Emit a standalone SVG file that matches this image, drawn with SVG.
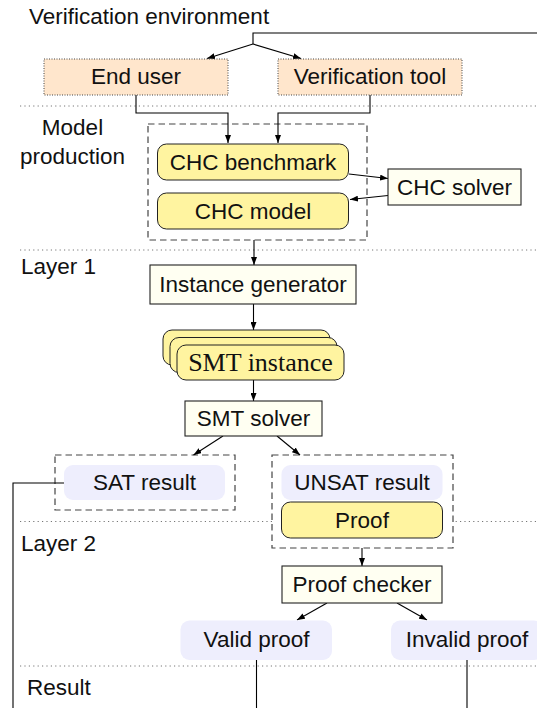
<svg xmlns="http://www.w3.org/2000/svg" width="537" height="708" viewBox="0 0 537 708">
  <defs>
    <marker id="arr" markerUnits="userSpaceOnUse" markerWidth="8" markerHeight="6" viewBox="0 0 8 6" refX="8" refY="3" orient="auto">
      <path d="M0,0 L8,3 L0,6 z" fill="#000"/>
    </marker>
    <style>
      text { font-family: "Liberation Sans", Arial, sans-serif; font-size: 22.5px; fill: #111; }
      .c { text-anchor: middle; }
      .serif { font-family: "Liberation Serif", "Times New Roman", serif; font-size: 26px; }
      .sep { stroke: #777; stroke-width: 1; stroke-dasharray: 1.2 3.2; fill: none; }
      .peach { fill: #ffe6cc; stroke: #444; stroke-width: 1; stroke-dasharray: 1 1.5; }
      .yel { fill: #fff4a0; stroke: #222; stroke-width: 1; }
      .lav { fill: #eeeefd; stroke: none; }
      .tool { fill: #fffff2; stroke: #222; stroke-width: 1.1; }
      .grp { fill: #fff; stroke: #444; stroke-width: 1.2; stroke-dasharray: 6.5 4; }
      .ln { stroke: #000; stroke-width: 1.1; fill: none; }
      .ar { stroke: #000; stroke-width: 1.1; fill: none; marker-end: url(#arr); }
    </style>
  </defs>

  <g id="separators">
    <line class="sep" x1="20" y1="106" x2="537" y2="106"/>
    <line class="sep" x1="20" y1="250" x2="537" y2="250"/>
    <line class="sep" x1="20" y1="521.5" x2="537" y2="521.5"/>
    <line class="sep" x1="20" y1="666" x2="537" y2="666"/>
  </g>

  <g id="layer-labels">
    <text x="29" y="23.5">Verification environment</text>
    <text class="c" x="72.5" y="135">Model</text>
    <text class="c" x="72.5" y="164">production</text>
    <text x="21" y="274">Layer 1</text>
    <text x="21" y="551">Layer 2</text>
    <text x="27" y="695">Result</text>
  </g>

  <g id="group-model">
    <rect class="grp" x="148" y="124" width="219" height="116"/>
  </g>
  <g id="group-sat">
    <rect class="grp" x="55" y="455" width="180" height="55"/>
  </g>
  <g id="group-unsat">
    <rect class="grp" x="272" y="455" width="181" height="93"/>
  </g>

  <g id="connectors">
    <polyline class="ln" points="540,33 253,33 253,44"/>
    <line class="ar" x1="253" y1="44" x2="207" y2="58.5"/>
    <line class="ar" x1="253" y1="44" x2="301" y2="58.5"/>
    <polyline class="ar" points="136,95 136,113 228,113 228,143"/>
    <polyline class="ar" points="370,95 370,113 278,113 278,143"/>
    <line class="ar" x1="349" y1="174" x2="388" y2="178.5"/>
    <line class="ar" x1="388" y1="195.5" x2="350" y2="199.5"/>
    <line class="ar" x1="254" y1="240" x2="254" y2="265"/>
    <line class="ar" x1="253.5" y1="304" x2="253.5" y2="330"/>
    <line class="ar" x1="253.5" y1="380" x2="253.5" y2="401"/>
    <line class="ar" x1="223" y1="436" x2="193.5" y2="455"/>
    <line class="ar" x1="277" y1="436" x2="300" y2="455"/>
    <polyline class="ln" points="64,483 13,483 13,710"/>
    <line class="ar" x1="362" y1="548" x2="362" y2="566"/>
    <line class="ar" x1="327" y1="603" x2="297" y2="620"/>
    <line class="ar" x1="397" y1="603" x2="427" y2="620"/>
    <line class="ln" x1="256.5" y1="660" x2="256.5" y2="710"/>
    <line class="ln" x1="467" y1="660" x2="467" y2="710"/>
  </g>

  <g id="end-user">
    <rect class="peach" x="44" y="59" width="184" height="36"/>
    <text class="c" x="136" y="84">End user</text>
  </g>
  <g id="verification-tool">
    <rect class="peach" x="278" y="59" width="184" height="36"/>
    <text class="c" x="370" y="84">Verification tool</text>
  </g>

  <g id="chc-benchmark">
    <rect class="yel" x="157.5" y="144" width="191" height="36" rx="9"/>
    <text class="c" x="253" y="170">CHC benchmark</text>
  </g>
  <g id="chc-model">
    <rect class="yel" x="157.5" y="193" width="191" height="36" rx="9"/>
    <text class="c" x="253" y="219">CHC model</text>
  </g>
  <g id="chc-solver">
    <rect class="tool" x="388" y="169" width="133" height="36"/>
    <text class="c" x="454.5" y="194.5">CHC solver</text>
  </g>

  <g id="instance-generator">
    <rect class="tool" x="150" y="265" width="206" height="39"/>
    <text class="c" x="253" y="292">Instance generator</text>
  </g>

  <g id="smt-instance">
    <rect class="yel" x="163" y="330" width="167" height="35" rx="9"/>
    <rect class="yel" x="170" y="337.5" width="167" height="35" rx="9"/>
    <rect class="yel" x="177" y="345" width="167" height="35" rx="9"/>
    <text class="c serif" x="260.5" y="371">SMT instance</text>
  </g>

  <g id="smt-solver">
    <rect class="tool" x="185" y="401" width="137" height="35"/>
    <text class="c" x="253.5" y="426">SMT solver</text>
  </g>

  <g id="sat-result">
    <rect class="lav" x="64" y="465" width="161" height="35" rx="9"/>
    <text class="c" x="144.5" y="490">SAT result</text>
  </g>
  <g id="unsat-result">
    <rect class="lav" x="281.5" y="465" width="161" height="35" rx="9"/>
    <text class="c" x="362" y="490">UNSAT result</text>
  </g>
  <g id="proof">
    <rect class="yel" x="281.5" y="502" width="161" height="36" rx="9"/>
    <text class="c" x="362" y="528">Proof</text>
  </g>

  <g id="proof-checker">
    <rect class="tool" x="282" y="566" width="160" height="37"/>
    <text class="c" x="362" y="592">Proof checker</text>
  </g>

  <g id="valid-proof">
    <rect class="lav" x="180.5" y="620.5" width="151.5" height="39.5" rx="9"/>
    <text class="c" x="256.5" y="647">Valid proof</text>
  </g>
  <g id="invalid-proof">
    <rect class="lav" x="391" y="620.5" width="152" height="39.5" rx="9"/>
    <text class="c" x="467" y="647">Invalid proof</text>
  </g>
</svg>
